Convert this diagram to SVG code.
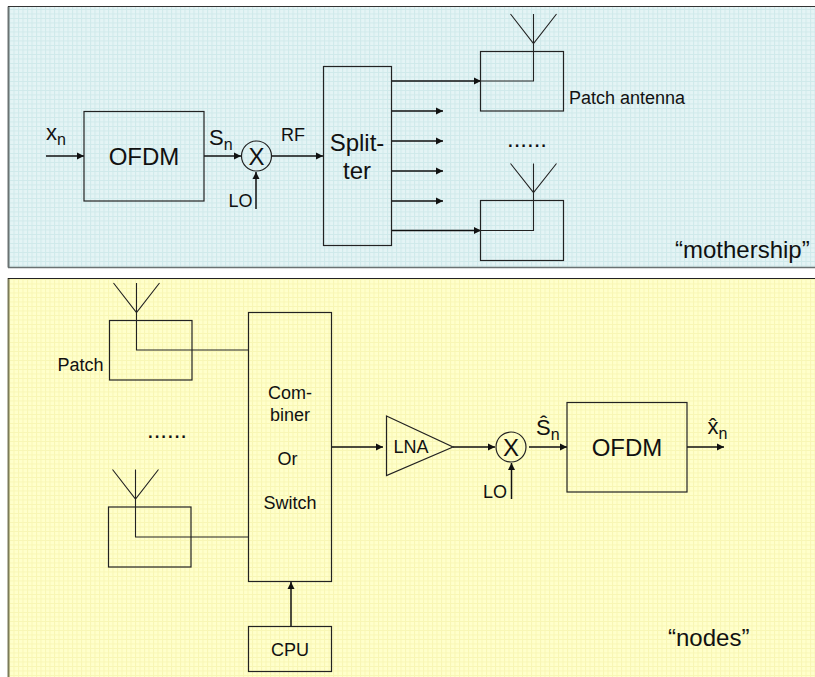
<svg xmlns="http://www.w3.org/2000/svg" width="815" height="677" viewBox="0 0 815 677">
<style>
text{font-family:"Liberation Sans",Arial,sans-serif;fill:#111}
.b{fill:none;stroke:#222;stroke-width:1.2}
.c{fill:none;stroke:#222;stroke-width:1.1}
.a{fill:none;stroke:#111;stroke-width:1.5;marker-end:url(#ah)}
.L{font-size:24px}.M{font-size:22px}.S{font-size:18px}.n{font-size:16px}
</style>
<defs>
<marker id="ah" markerUnits="userSpaceOnUse" markerWidth="8" markerHeight="8" refX="7" refY="4" orient="auto"><path d="M0,0.5L7,4L0,7.5Z" fill="#111"/></marker>
<pattern id="gb" width="4.500" height="4.500" patternUnits="userSpaceOnUse"><rect width="4.500" height="4.500" fill="#e4f4f5"/><path d="M0,0.5H4.500M0.5,0V4.500" stroke="#cfe9ea" stroke-width="1"/></pattern>
<pattern id="gy" width="4.500" height="4.500" patternUnits="userSpaceOnUse"><rect width="4.500" height="4.500" fill="#ffffcb"/><path d="M0,0.5H4.500M0.5,0V4.500" stroke="#f8f6b4" stroke-width="1"/></pattern>
</defs>
<rect width="815" height="677" fill="#fff"/>
<g id="panel-mothership"><rect x="8.500" y="6.500" width="808" height="261" fill="url(#gb)"/>
<path d="M8.500,267.500V6.500" stroke="#6a7272" stroke-width="2" fill="none"/><path d="M8,6.500H815" stroke="#333" stroke-width="1.200" fill="none"/><path d="M8,267.500H815" stroke="#6a7272" stroke-width="1.500" fill="none"/></g>
<g id="panel-nodes"><rect x="8.500" y="278.500" width="808" height="400" fill="url(#gy)"/>
<path d="M8.500,278V678" stroke="#7a7a58" stroke-width="2" fill="none"/><path d="M8,278.500H815" stroke="#222" stroke-width="1.200" fill="none"/></g>
<g id="connectors">
<path class="a" d="M46,156H84"/>
<path class="a" d="M204,156H241"/>
<path class="a" d="M256,209V172"/>
<path class="a" d="M272,156H323"/>
<path class="a" d="M391,81H481"/>
<path class="a" d="M391,111H443"/>
<path class="a" d="M391,141H443"/>
<path class="a" d="M391,171H443"/>
<path class="a" d="M391,201H443"/>
<path class="a" d="M391,230.500H481"/>
<path class="c" d="M533.500,14V81H481M510.500,14L533.500,43.500L556.500,14"/>
<path class="c" d="M533.500,163.500V230.500H481M510.500,163.500L533.500,192.500L556.500,163.500"/>
<path class="c" d="M136.500,283V350H248M113.500,283L136.500,312.500L159.500,283"/>
<path class="c" d="M135.500,469.500V537H248M112.500,469.500L135.500,499L158.500,469.500"/>
<path class="a" d="M291,626V582"/>
<path class="a" d="M331,447H383"/>
<path class="a" d="M453,447H495"/>
<path class="a" d="M511.500,499V463"/>
<path class="a" d="M529,447H567"/>
<path class="a" d="M687,447H724"/>
</g>
<g id="ofdm-top"><rect class="b" x="84" y="111.500" width="120" height="89.500"/><text class="L" x="144" y="165" text-anchor="middle">OFDM</text></g>
<g id="mixer-top"><circle class="b" cx="256.500" cy="156" r="15"/><text class="L" x="256.500" y="165" text-anchor="middle">X</text></g>
<g id="splitter"><rect class="b" x="323.500" y="66.500" width="68" height="179"/><text class="L" x="357" y="151" text-anchor="middle">Split-</text><text class="L" x="357" y="179" text-anchor="middle">ter</text></g>
<g id="patch-top-1"><rect class="b" x="480.500" y="51.500" width="83" height="59.500"/></g>
<g id="patch-top-2"><rect class="b" x="480.500" y="200.500" width="83" height="60"/></g>
<g id="labels-top">
<text class="M" x="46" y="140">x<tspan class="n" dy="5">n</tspan></text>
<text class="M" x="209" y="145">S<tspan class="n" dy="5">n</tspan></text>
<text class="S" x="228.500" y="207">LO</text>
<text class="S" x="281" y="141">RF</text>
<text class="S" x="569" y="104">Patch antenna</text>
<text class="L" x="507" y="147">......</text>
<text class="L" x="675" y="258">“mothership”</text>
</g>
<g id="patch-bottom-1"><rect class="b" x="109.500" y="320.500" width="82.500" height="59.500"/></g>
<g id="patch-bottom-2"><rect class="b" x="108.500" y="507" width="82.500" height="60"/></g>
<g id="combiner"><rect class="b" x="248.500" y="312.500" width="83" height="269"/>
<text class="S" x="290" y="399" text-anchor="middle">Com-</text><text class="S" x="290" y="421" text-anchor="middle">biner</text><text class="S" x="287.500" y="465" text-anchor="middle">Or</text><text class="S" x="290" y="509" text-anchor="middle">Switch</text></g>
<g id="cpu"><rect class="b" x="248.500" y="626.500" width="83" height="45"/><text class="S" x="290" y="656" text-anchor="middle">CPU</text></g>
<g id="lna"><path class="b" d="M386.500,416L453,447L386.500,475.500Z"/><text class="S" x="393.500" y="453">LNA</text></g>
<g id="mixer-bottom"><circle class="b" cx="511" cy="447" r="15"/><text class="L" x="511" y="456" text-anchor="middle">X</text></g>
<g id="ofdm-bottom"><rect class="b" x="567" y="402.500" width="120" height="89.500"/><text class="L" x="627" y="456" text-anchor="middle">OFDM</text></g>
<g id="labels-bottom">
<text class="S" x="57.500" y="371">Patch</text>
<text class="L" x="147" y="438">......</text>
<text class="M" x="536" y="435">Ŝ<tspan class="n" dy="5">n</tspan></text>
<text class="M" x="707.500" y="434">x̂<tspan class="n" dy="5">n</tspan></text>
<text class="S" x="483" y="498">LO</text>
<text class="L" x="668" y="646">“nodes”</text>
</g>
</svg>
